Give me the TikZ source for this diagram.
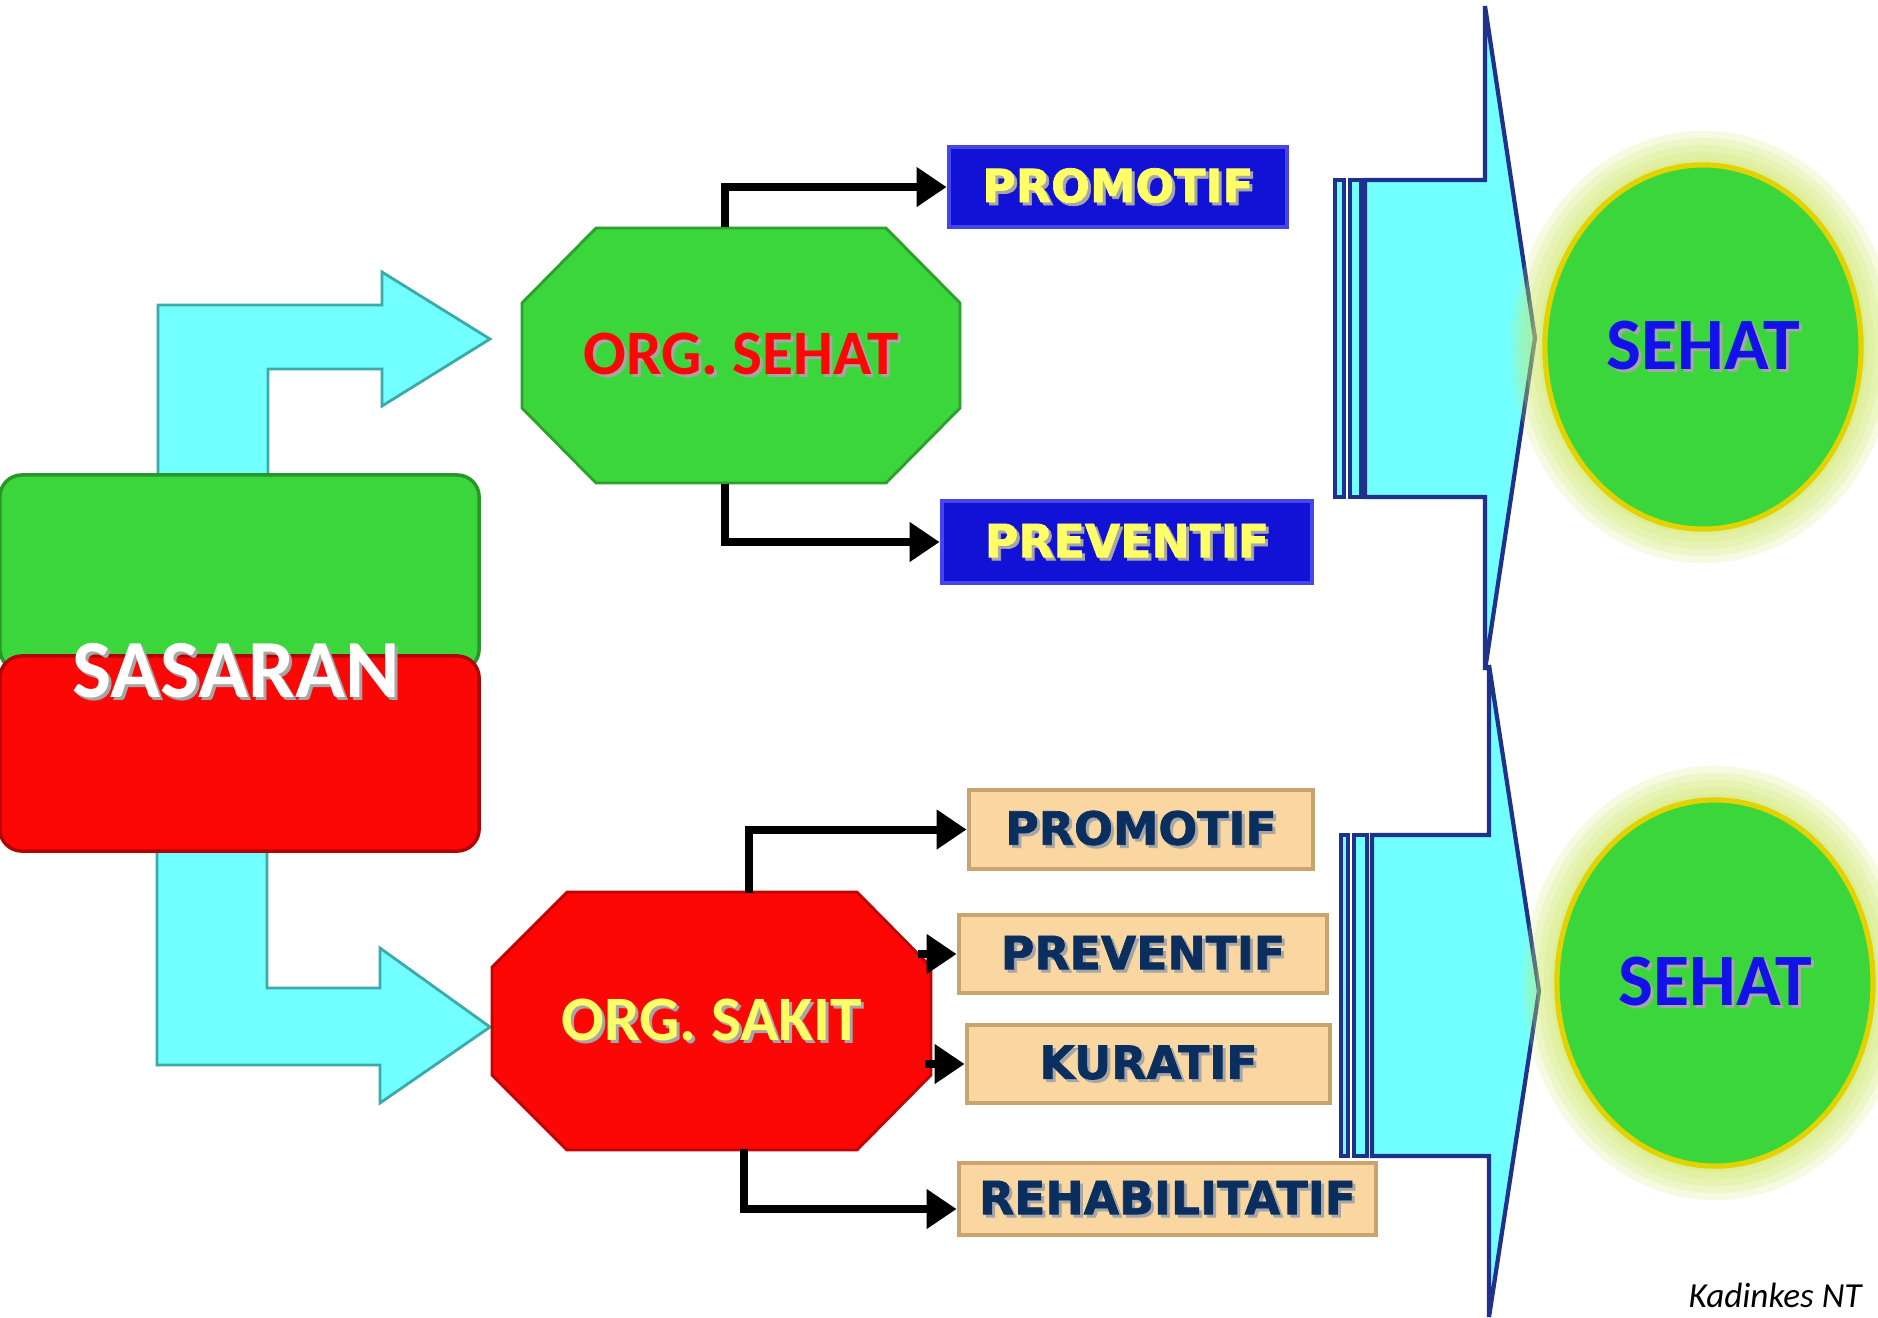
\documentclass[tikz,border=0pt]{standalone}
\usepackage{fontspec}
\setmainfont{Carlito}
\newfontfamily\boxfont{DejaVu Sans}[BoldFeatures={FakeBold=1.5}]
\usetikzlibrary{shapes,arrows.meta,positioning}

\definecolor{hijau}{RGB}{59,214,59}
\definecolor{merah}{RGB}{253,6,6}
\definecolor{toska}{RGB}{114,255,255}
\definecolor{toskagelap}{RGB}{60,170,170}
\definecolor{biru}{RGB}{18,18,214}
\definecolor{birumuda}{RGB}{70,70,235}
\definecolor{kuning}{RGB}{255,255,102}
\definecolor{krem}{RGB}{250,215,160}
\definecolor{kremgelap}{RGB}{200,165,110}
\definecolor{navy}{RGB}{10,46,94}
\definecolor{birutua}{RGB}{30,50,140}
\definecolor{sehatbiru}{RGB}{18,18,232}
\definecolor{emas}{RGB}{225,210,0}
\definecolor{cahaya}{RGB}{205,232,100}

\newcommand{\bayang}[1]{\makebox[0pt][l]{\hspace{0.03cm}\raisebox{-0.03cm}{\color{black!35}#1}}#1}

\begin{document}
\begin{tikzpicture}[x=0.01cm,y=-0.01cm,
	kotak/.style={rectangle,rounded corners=0.22cm,minimum width=4.79cm,minimum height=1.96cm,line width=1pt},
	octa/.style={line width=0.8pt,line join=miter},
	octatext/.style={rectangle,minimum width=4.38cm,minimum height=2.55cm,font=\bfseries\fontsize{18}{22}\selectfont},
	hasil/.style={rectangle,line width=1.3pt,inner sep=0pt,font=\boxfont\bfseries\fontsize{13}{16}\selectfont},
	hasilbiru/.style={hasil,fill=biru,draw=birumuda,text=kuning},
	hasilkrem/.style={hasil,fill=krem,draw=kremgelap,text=navy},
	panah/.style={line width=0.08cm,-{Triangle[length=0.3cm,width=0.38cm]}},
	toskapanah/.style={fill=toska,draw=toskagelap,line width=0.8pt},
	besar/.style={fill=toska,draw=birutua,line width=1.2pt},
	bulat/.style={ellipse,fill=hijau,draw=emas,line width=1.5pt,minimum width=3.16cm,minimum height=3.64cm,font=\bfseries\fontsize{21}{25}\selectfont,text=sehatbiru}]

	\path[use as bounding box,fill=white] (0,0) rectangle (1878,1317);

	% cyan arrows out of SASARAN
	\draw[toskapanah] (158,520) -- (158,305) -- (382,305) -- (382,272) -- (490,339) -- (382,406) -- (382,369) -- (268,369) -- (268,520) -- cycle;
	\draw[toskapanah] (157,800) -- (157,1065) -- (380,1065) -- (380,1103) -- (490,1027) -- (380,948) -- (380,988) -- (267,988) -- (267,800) -- cycle;

	\node[kotak,fill=hijau,draw=hijau!70!black] (atas) at (239.5,573) {};
	\node[kotak,fill=merah,draw=merah!70!black,minimum height=1.95cm] (bawah) at (239.5,753.5) {};
	\node[text=white,font=\bfseries\fontsize{23.5}{28}\selectfont] (sasaran) at (236,672) {\bayang{SASARAN}};

	% octagons
	\draw[octa,fill=hijau,draw=hijau!75!black] (596,228) -- (886,228) -- (960,303) -- (960,408) -- (886,483) -- (596,483) -- (522,408) -- (522,303) -- cycle;
	\draw[octa,fill=merah,draw=merah!75!black] (567,892) -- (857,892) -- (931,967) -- (931,1075) -- (857,1150) -- (567,1150) -- (492,1075) -- (492,967) -- cycle;
	\node[octatext,text=merah] (orgsehat) at (741,355.5) {\bayang{ORG. SEHAT}};
	\node[octatext,text=kuning] (orgsakit) at (711.5,1021) {\bayang{ORG. SAKIT}};

	\node[hasilbiru,minimum width=3.38cm,minimum height=0.80cm] (promotif1) at (1118,187) {\bayang{PROMOTIF}};
	\node[hasilbiru,minimum width=3.70cm,minimum height=0.82cm] (preventif1) at (1127,542) {\bayang{PREVENTIF}};
	\node[hasilkrem,minimum width=3.44cm,minimum height=0.79cm] (promotif2) at (1141,829.5) {\bayang{PROMOTIF}};
	\node[hasilkrem,minimum width=3.68cm,minimum height=0.78cm] (preventif2) at (1143,954) {\bayang{PREVENTIF}};
	\node[hasilkrem,minimum width=3.63cm,minimum height=0.78cm] (kuratif) at (1148.5,1064) {\bayang{KURATIF}};
	\node[hasilkrem,minimum width=4.17cm,minimum height=0.72cm] (rehab) at (1167.5,1199) {\bayang{REHABILITATIF}};

	\draw[panah] ([xshift=-0.16cm]orgsehat.north) |- (promotif1);
	\draw[panah] ([xshift=-0.16cm]orgsehat.south) |- (preventif1);
	\draw[panah] ([xshift=0.375cm]orgsakit.north) |- (promotif2);
	\draw[panah] ([xshift=-0.13cm]orgsakit.east |- preventif2.west) -- (preventif2.west);
	\draw[panah] ([xshift=-0.06cm]orgsakit.east |- kuratif.west) -- (kuratif.west);
	\draw[panah] ([xshift=0.325cm]orgsakit.south) |- ([yshift=-0.1cm]rehab.west);

	% big arrows to SEHAT
	\draw[besar] (1365,180) -- (1485,180) -- (1485,6) -- (1535,338) -- (1485,670) -- (1485,497) -- (1365,497) -- cycle;
	\draw[besar] (1335,180) rectangle (1344,497);
	\draw[besar] (1350,180) rectangle (1361,497);
	\draw[besar] (1372,835) -- (1489,835) -- (1489,665) -- (1539,991) -- (1489,1317) -- (1489,1156) -- (1372,1156) -- cycle;
	\draw[besar] (1341,835) rectangle (1348,1156);
	\draw[besar] (1354,835) rectangle (1367,1156);

	\coordinate (pusat1) at (1703,347);
	\coordinate (pusat2) at (1715,983);
	\foreach \g in {0.34cm,0.27cm,0.2cm,0.13cm,0.06cm}{
		\fill[cahaya,opacity=0.2] (pusat1) ellipse [x radius={1.58cm+\g},y radius={1.82cm+\g}];
		\fill[cahaya,opacity=0.2] (pusat2) ellipse [x radius={1.58cm+\g},y radius={1.83cm+\g}];
	}
	\node[bulat] (sehat1) at (pusat1) {\bayang{SEHAT}};
	\node[bulat,minimum height=3.66cm] (sehat2) at (pusat2) {\bayang{SEHAT}};

	\node[anchor=base east,font=\itshape\fontsize{10}{12}\selectfont] (sumber) at (1874,1307) {Kadinkes NT};
\end{tikzpicture}
\end{document}
